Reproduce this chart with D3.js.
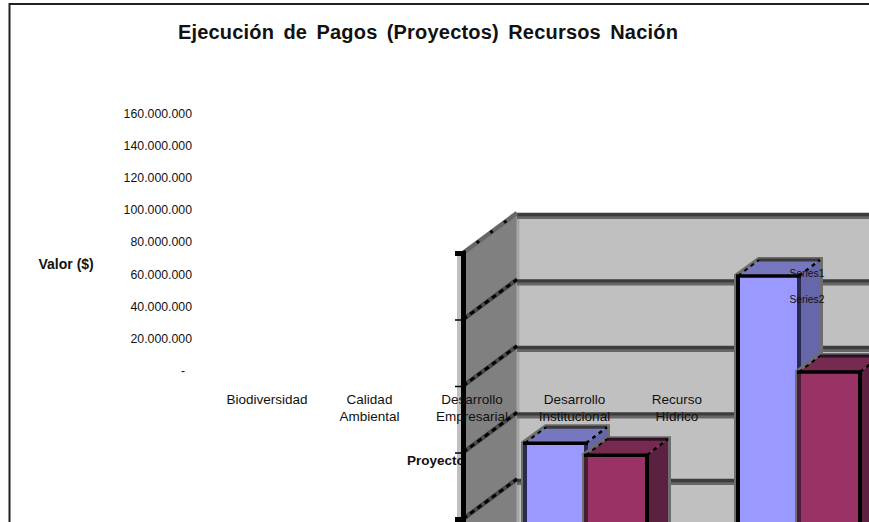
<!DOCTYPE html>
<html>
<head>
<meta charset="utf-8">
<script src="https://cdn.jsdelivr.net/npm/d3@7"></script>
<style>
    html, body { margin: 0; padding: 0; background: #fff; overflow: hidden; }
    svg { display: block; }
    text { font-family: "Liberation Sans", Arial, sans-serif; fill: #111; }
</style>
</head>
<body>
<div id="chart"></div>
<script>
// Chart data
let categories = ["Biodiversidad", "Calidad Ambiental", "Desarrollo Empresarial", "Desarrollo Institucional", "Recurso Hídrico"];
let seriesNames = ["Series1", "Series2"];
let series1 = [99200000, 149500000];
let series2 = [95600000, 120600000];
let labelTicks = [0, 20000000, 40000000, 60000000, 80000000, 100000000, 120000000, 140000000, 160000000];
let wallTicks = [80000000, 100000000, 120000000, 140000000, 160000000];

let svgWidth = 869;
let svgHeight = 522;

// Wall depth of the 3D box and of a single column
let wallDx = 54, wallDy = 40;
let barDx = 21, barDy = 16;

let colors = {
    Series1: { front: "#9999ff", top: "#7777c0", side: "#6666aa", back: "#3a3a3a", edge: "#2a2a50" },
    Series2: { front: "#993366", top: "#772a50", side: "#5c2040", back: "#2c1020", edge: "#4a1c38" }
};

let svg = d3.select("#chart")
    .append("svg")
    .attr("width", svgWidth)
    .attr("height", svgHeight);

// Scales: the printed labels and the 3D box do not line up in the original
let yLabels = d3.scaleLinear().domain([0, 160000000]).range([370.5, 113.5]);
let yWall = d3.scaleLinear().domain([80000000, 160000000]).range([519, 253]);
let xWall = 463;
let xCat = d3.scaleBand().domain(categories).range([479.5, 479.5 + 1065]);
let xSeries = d3.scaleBand().domain(seriesNames).range([0, xCat.bandwidth()]).paddingOuter(0.746);
let xLabels = d3.scalePoint().domain(categories).range([267, 677]);

// Outer frame
svg.append("rect")
    .attr("x", 9.5)
    .attr("y", 4)
    .attr("width", svgWidth + 20)
    .attr("height", svgHeight + 20)
    .attr("fill", "#fff")
    .attr("stroke", "#222")
    .attr("stroke-width", 2);

// Light halo of the vertical axis
svg.append("line")
    .attr("x1", xWall - 4).attr("x2", xWall - 4)
    .attr("y1", yWall(160000000) - 2).attr("y2", svgHeight)
    .attr("stroke", "#c0c0c0").attr("stroke-width", 4);

// "Proyectos" goes under the side wall, the last letter gets cut off
svg.append("text")
    .attr("x", 407)
    .attr("y", 465)
    .attr("font-size", 13.5)
    .attr("font-weight", "bold")
    .text("Proyectos");

// Walls
let bottomFront = yWall(80000000) + 80;
svg.append("polygon")
    .attr("fill", "#808080")
    .attr("points", [
        [xWall, yWall(160000000)],
        [xWall + wallDx, yWall(160000000) - wallDy],
        [xWall + wallDx, bottomFront - wallDy],
        [xWall, bottomFront]
    ].join(" "));

svg.append("rect")
    .attr("x", xWall + wallDx)
    .attr("y", yWall(160000000) - wallDy)
    .attr("width", svgWidth)
    .attr("height", svgHeight)
    .attr("fill", "#c0c0c0");

svg.append("line")
    .attr("x1", xWall + wallDx + 1)
    .attr("x2", xWall + wallDx + 1)
    .attr("y1", yWall(160000000) - wallDy)
    .attr("y2", svgHeight)
    .attr("stroke", "#a6a6a6")
    .attr("stroke-width", 3);

// Gridlines on both walls
let grid = svg.append("g");
wallTicks.forEach(function(t) {
    let y = yWall(t);
    grid.append("line")
        .attr("x1", xWall + wallDx).attr("x2", svgWidth)
        .attr("y1", y - wallDy + 4.5).attr("y2", y - wallDy + 4.5)
        .attr("stroke", "#666").attr("stroke-width", 3);
    grid.append("line")
        .attr("x1", xWall + wallDx).attr("x2", svgWidth)
        .attr("y1", y - wallDy + 1.5).attr("y2", y - wallDy + 1.5)
        .attr("stroke", "#3c3c3c").attr("stroke-width", 3.5);
    grid.append("line")
        .attr("x1", xWall).attr("x2", xWall + wallDx)
        .attr("y1", y).attr("y2", y - wallDy)
        .attr("stroke", t === 160000000 ? "#666" : "#4a4a4a").attr("stroke-width", 4.5);
    grid.append("line")
        .attr("x1", xWall).attr("x2", xWall + wallDx)
        .attr("y1", y).attr("y2", y - wallDy)
        .attr("stroke", "#000").attr("stroke-width", 3)
        .attr("stroke-dasharray", t === 160000000 ? "3 14" : "5 4");
});

// Draw one 3D column, front plane sits in the middle of the box
function drawColumn(name, category, value, leftEdge) {
    let c = colors[name];
    let x0 = xCat(category) + xSeries(name);
    let w = xSeries.bandwidth();
    let yTop = yWall(value) - (wallDy - barDy) / 2;
    let yBase = svgHeight + 30;
    let g = svg.append("g");

    // gray halo behind the column
    g.append("path")
        .attr("d", `M${x0 - 1},${yBase} V${yTop} L${x0 + barDx},${yTop - barDy} H${x0 + w + barDx} V${yBase} Z`)
        .attr("fill", "none")
        .attr("stroke", "#6e6e6e")
        .attr("stroke-width", 6);

    g.append("polygon")
        .attr("fill", c.side)
        .attr("points", [[x0 + w, yTop], [x0 + w + barDx, yTop - barDy], [x0 + w + barDx, yBase], [x0 + w, yBase]].join(" "));
    g.append("polygon")
        .attr("fill", c.top)
        .attr("points", [[x0, yTop], [x0 + barDx, yTop - barDy], [x0 + w + barDx, yTop - barDy], [x0 + w, yTop]].join(" "));

    // back edges of top face
    g.append("line")
        .attr("x1", x0 + barDx).attr("x2", x0 + w + barDx)
        .attr("y1", yTop - barDy).attr("y2", yTop - barDy)
        .attr("stroke", c.back).attr("stroke-width", 3);
    g.append("line")
        .attr("x1", x0).attr("x2", x0 + barDx)
        .attr("y1", yTop).attr("y2", yTop - barDy)
        .attr("stroke", "#000").attr("stroke-width", 2)
        .attr("stroke-dasharray", "4 4");
    g.append("line")
        .attr("x1", x0 + w).attr("x2", x0 + w + barDx)
        .attr("y1", yTop).attr("y2", yTop - barDy)
        .attr("stroke", "#000").attr("stroke-width", 2.5)
        .attr("stroke-dasharray", "4 4");

    // front face, each edge has its own tone in the original
    g.append("rect")
        .attr("x", x0)
        .attr("y", yTop)
        .attr("width", w)
        .attr("height", yBase - yTop)
        .attr("fill", c.front);
    g.append("line")
        .attr("x1", x0).attr("x2", x0)
        .attr("y1", yTop).attr("y2", yBase)
        .attr("stroke", leftEdge).attr("stroke-width", 4);
    g.append("line")
        .attr("x1", x0 + w).attr("x2", x0 + w)
        .attr("y1", yTop).attr("y2", yBase)
        .attr("stroke", name === "Series1" ? c.edge : "#000").attr("stroke-width", 4);
    g.append("line")
        .attr("x1", x0 - 2).attr("x2", x0 + w + 2)
        .attr("y1", yTop).attr("y2", yTop)
        .attr("stroke", "#000").attr("stroke-width", 3.5);
}

categories.slice(0, series1.length).forEach(function(cat, i) {
    drawColumn("Series1", cat, series1[i], i === 0 ? colors.Series1.edge : "#000");
    drawColumn("Series2", cat, series2[i], colors.Series2.edge);
});

// Vertical axis of the box
let axisRight = d3.axisLeft(yWall).tickValues(wallTicks).tickFormat("").tickSize(8).tickPadding(0);
svg.append("g")
    .attr("transform", `translate(${xWall},0)`)
    .call(axisRight)
    .call(g => g.select(".domain").attr("stroke", "#000").attr("stroke-width", 5))
    .call(g => g.selectAll(".tick line").attr("stroke", "#000").attr("stroke-width", 1.5));

// Printed value labels on the left
let axisLabels = d3.axisLeft(yLabels)
    .tickValues(labelTicks)
    .tickSize(0)
    .tickPadding(0)
    .tickFormat(d => d === 0 ? "-" : d3.format(",")(d).replace(/,/g, "."));
svg.append("g")
    .attr("transform", "translate(192,0)")
    .call(axisLabels)
    .call(g => g.select(".domain").remove())
    .call(g => g.selectAll("text").attr("font-size", 12.3).attr("font-family", null).attr("fill", "#111"))
    .call(g => g.selectAll(".tick").filter(d => d === 0).select("text").attr("dx", -7));

// Category labels, wrapped to two lines
categories.forEach(function(cat) {
    let words = cat.split(" ");
    let t = svg.append("text")
        .attr("text-anchor", "middle")
        .attr("font-size", 13.5)
        .attr("y", 403.5);
    words.forEach(function(word, i) {
        t.append("tspan")
            .attr("x", xLabels(cat))
            .attr("dy", i === 0 ? 0 : 17)
            .text(word);
    });
});

// Legend texts
seriesNames.forEach(function(name, i) {
    svg.append("text")
        .attr("x", 789.5)
        .attr("y", 277 + i * 26)
        .attr("font-size", 10.3)
        .attr("fill", "#111")
        .text(name);
});

// Title and axis titles
svg.append("text")
    .attr("x", 428)
    .attr("y", 38.5)
    .attr("text-anchor", "middle")
    .attr("font-size", 20)
    .attr("font-weight", "bold")
    .attr("letter-spacing", 0.2)
    .attr("word-spacing", 3.5)
    .text("Ejecución de Pagos (Proyectos) Recursos Nación");

svg.append("text")
    .attr("x", 38.5)
    .attr("y", 269)
    .attr("font-size", 14)
    .attr("font-weight", "bold")
    .text("Valor ($)");
</script>
</body>
</html>
